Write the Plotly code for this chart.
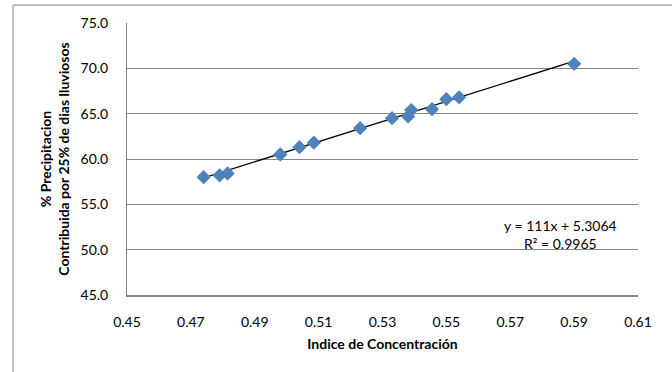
import plotly.graph_objects as go

# Data
indice = [0.474, 0.479, 0.4815, 0.498, 0.504, 0.5085, 0.523, 0.533, 0.538, 0.539,
          0.5455, 0.550, 0.554, 0.590]
precip = [58.0, 58.2, 58.4, 60.5, 61.3, 61.8, 63.4, 64.5, 64.7, 65.4,
          65.5, 66.6, 66.8, 70.5]

# Linear trendline as stated on the chart
slope = 111.0
intercept = 5.3064
r2 = 0.9965

x_ticks = [0.45, 0.47, 0.49, 0.51, 0.53, 0.55, 0.57, 0.59, 0.61]
y_ticks = [45.0, 50.0, 55.0, 60.0, 65.0, 70.0, 75.0]

trend_x = [min(indice), max(indice)]
trend_y = [slope * v + intercept for v in trend_x]

FONT = "Lato"

fig = go.Figure()
fig.add_trace(go.Scatter(
    x=trend_x, y=trend_y, mode="lines",
    line=dict(color="black", width=1.3), hoverinfo="skip", showlegend=False))
fig.add_trace(go.Scatter(
    x=indice, y=precip, mode="markers",
    marker=dict(symbol="diamond", size=11, color="#4F81BD"),
    showlegend=False))

fig.add_annotation(
    x=0.5856, y=51.7, xref="x", yref="y",
    text=f"y = {slope:g}x + {intercept:g}<br>R² = {r2:g}",
    showarrow=False, align="center",
    font=dict(family=FONT, size=14, color="black"))

# outer chart frame
fig.add_shape(type="rect", xref="paper", yref="paper",
              x0=-0.223, x1=1.3, y0=-0.6, y1=1.066,
              line=dict(color="#868686", width=1), layer="below")

fig.update_layout(
    width=672, height=372,
    margin=dict(l=127, r=34, t=23, b=77),
    paper_bgcolor="white", plot_bgcolor="white",
    font=dict(family=FONT, size=14, color="black"),
    xaxis=dict(
        range=[0.45, 0.61], tickvals=x_ticks, tickformat=".2f",
        showgrid=False, zeroline=False,
        showline=True, linecolor="#868686", linewidth=2,
        ticks="", ticklabelstandoff=13,
        title=dict(text="<b>Indice de Concentración</b>", standoff=10,
                   font=dict(family=FONT, size=14)),
    ),
    yaxis=dict(
        range=[45, 75], tickvals=y_ticks, tickformat=".1f",
        showgrid=True, gridcolor="#868686", gridwidth=1,
        zeroline=False, showline=True, linecolor="#868686", linewidth=1,
        ticks="", ticklabelstandoff=15,
        title=dict(text="<b>% Precipitacion<br>Contribuida por 25% de dias lluviosos</b>",
                   standoff=7, font=dict(family=FONT, size=14)),
    ),
)

fig.write_html("out.html")
